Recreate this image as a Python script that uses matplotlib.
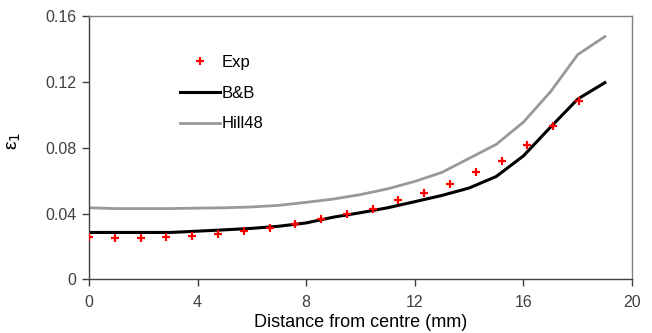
import matplotlib
matplotlib.use('Agg')
import matplotlib.pyplot as plt

plt.rcParams['font.family'] = ['Liberation Sans', 'DejaVu Sans']

# experimental points
exp_x = [0, 0.95, 1.9, 2.85, 3.8, 4.75, 5.7, 6.65, 7.6, 8.55,
         9.5, 10.45, 11.4, 12.35, 13.3, 14.25, 15.2, 16.15, 17.1, 18.05]
exp_y = [0.0258, 0.0252, 0.0252, 0.0258, 0.0264, 0.0276, 0.0295, 0.0313, 0.0337, 0.0365,
         0.0396, 0.0430, 0.0485, 0.0527, 0.0578, 0.0652, 0.0719, 0.0814, 0.0931, 0.1082]

# model curves
model_x = [0, 1, 2, 3, 4, 5, 6, 7, 8, 9, 10, 11, 12, 13, 14, 15, 16, 17, 18, 19]
bb_y = [0.0285, 0.0285, 0.0285, 0.0285, 0.0293, 0.0301, 0.0310, 0.0323, 0.0343, 0.0378,
        0.0405, 0.0435, 0.0472, 0.0510, 0.0555, 0.0625, 0.0750, 0.0925, 0.1095, 0.1195]
hill_y = [0.0435, 0.0430, 0.0430, 0.0430, 0.0433, 0.0435, 0.0440, 0.0450, 0.0468, 0.0488,
          0.0515, 0.0550, 0.0595, 0.0650, 0.0735, 0.0820, 0.0955, 0.1140, 0.1365, 0.1475]

xticks = [0, 4, 8, 12, 16, 20]
yticks = [0, 0.04, 0.08, 0.12, 0.16]
ytick_labels = ['0', '0.04', '0.08', '0.12', '0.16']

fig = plt.figure(figsize=(6.52, 3.33), dpi=100)
ax = fig.add_axes([0.1365, 0.161, 0.8328, 0.791])

ax.plot(exp_x, exp_y, '+', color='red', markersize=6, markeredgewidth=1.6, label='Exp', zorder=3)
ax.plot(model_x, bb_y, '-', color='black', linewidth=2.2, label='B&B')
ax.plot(model_x, hill_y, '-', color='#999999', linewidth=2.0, label='Hill48')

ax.set_xlim(0, 20)
ax.set_ylim(0, 0.16)
ax.set_xticks(xticks)
ax.set_xticklabels([str(t) for t in xticks])
ax.set_yticks(yticks)
ax.set_yticklabels(ytick_labels)

ax.tick_params(direction='out', length=5, width=1, colors='#404040', labelsize=11.5, pad=4)
ax.tick_params(axis='x', pad=6)
for side in ['left', 'bottom']:
    ax.spines[side].set_color('#404040')
    ax.spines[side].set_linewidth(1)
for side in ['top', 'right']:
    ax.spines[side].set_color('#808080')
    ax.spines[side].set_linewidth(1)

ax.set_xlabel('Distance from centre (mm)', fontsize=13, color='black', labelpad=3)
ax.set_ylabel('ε$_1$', fontsize=14)
ax.yaxis.set_label_coords(-0.121, 0.525)

leg = ax.legend(loc='upper left', bbox_to_anchor=(0.14, 0.91), frameon=False,
                fontsize=12, handlelength=2.4, handletextpad=0.1, labelspacing=0.95)

fig.savefig('out.png', dpi=100)
